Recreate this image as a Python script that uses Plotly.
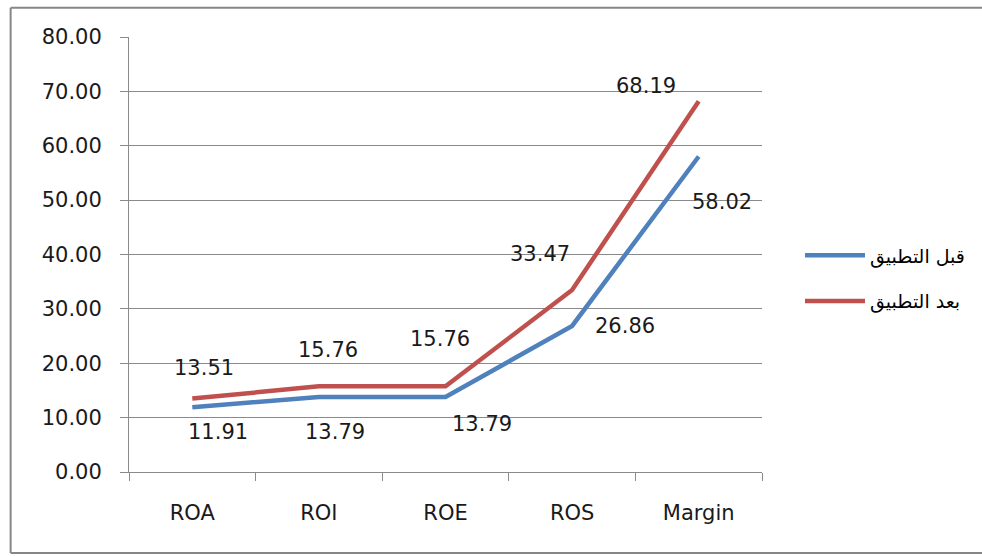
import plotly.graph_objects as go

categories = ["ROA", "ROI", "ROE", "ROS", "Margin"]
before_vals = [11.91, 13.79, 13.79, 26.86, 58.02]
after_vals = [13.51, 15.76, 15.76, 33.47, 68.19]
before_name = "قبل التطبيق"
after_name = "بعد التطبيق"
y_ticks = [0, 10, 20, 30, 40, 50, 60, 70, 80]

# label pixel offsets (style only)
before_shift = [(26, -25), (16, -35), (36, -27), (53, 0), (23, -45)]
after_shift = [(12, 31), (9, 36), (-6, 47), (-32, 36), (-53, 15)]

BLUE = "#4F81BD"
RED = "#C0504D"
GRID = "#8a8a8a"
FONT = "DejaVu Sans"

fig = go.Figure()
fig.add_trace(go.Scatter(x=categories, y=before_vals, mode="lines", name=before_name,
                         legendgroup="a", line=dict(color=BLUE, width=4.5)))
fig.add_trace(go.Scatter(x=categories, y=after_vals, mode="lines", name=after_name,
                         legendgroup="b", line=dict(color=RED, width=4.5)))

anns = []
for c, v, (dx, dy) in zip(categories, before_vals, before_shift):
    anns.append(dict(x=c, y=v, xref="x", yref="y", text=f"{v:.2f}", showarrow=False,
                     xshift=dx, yshift=dy, font=dict(family=FONT, size=21, color="#1a1a1a")))
for c, v, (dx, dy) in zip(categories, after_vals, after_shift):
    anns.append(dict(x=c, y=v, xref="x", yref="y", text=f"{v:.2f}", showarrow=False,
                     xshift=dx, yshift=dy, font=dict(family=FONT, size=21, color="#1a1a1a")))

border = dict(color="#868686", width=2)
x_left, y_bot, y_top, x_far = -0.187, -0.186, 1.067, 1.45
shapes = [
    dict(type="line", xref="paper", yref="paper", x0=x_left, x1=x_left, y0=y_bot, y1=y_top, line=border, layer="below"),
    dict(type="line", xref="paper", yref="paper", x0=x_left, x1=x_far, y0=y_top, y1=y_top, line=border, layer="below"),
    dict(type="line", xref="paper", yref="paper", x0=x_left, x1=x_far, y0=y_bot, y1=y_bot, line=border, layer="below"),
]

fig.update_layout(
    width=982, height=556,
    margin=dict(l=129, r=217, t=37, b=84),
    paper_bgcolor="white", plot_bgcolor="white",
    font=dict(family=FONT, size=21, color="#1a1a1a"),
    showlegend=True,
    legend=dict(x=1.06, y=0.445, xanchor="left", yanchor="middle",
                font=dict(family=FONT, size=19, color="#000000"),
                itemwidth=60, tracegroupgap=18, bgcolor="rgba(0,0,0,0)"),
    annotations=anns,
    shapes=shapes,
)
fig.update_xaxes(type="category", showgrid=False, showline=True, linecolor=GRID, linewidth=1,
                 ticks="outside", tickson="boundaries", ticklen=8, tickcolor=GRID,
                 ticklabelstandoff=22, tickfont=dict(family=FONT, size=21, color="#1a1a1a"),
                 range=[-0.5, 4.5])
fig.update_yaxes(range=[0, 80], tickvals=y_ticks, ticktext=[f"{t:.2f}" for t in y_ticks],
                 showgrid=True, gridcolor=GRID, gridwidth=1, showline=True, linecolor=GRID,
                 ticks="outside", ticklen=8, tickcolor=GRID, ticklabelstandoff=14,
                 zeroline=False, tickfont=dict(family=FONT, size=21, color="#1a1a1a"))

fig.write_html(
    "out.html",
    config={"displayModeBar": False},
    post_script="document.body.style.margin='0';document.body.style.overflow='hidden';",
)
